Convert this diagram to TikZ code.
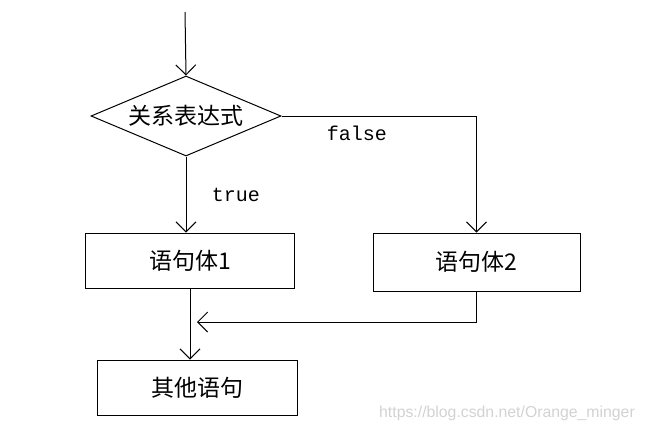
\documentclass[tikz,border=0pt]{standalone}
\usepackage{fontspec}
\setmainfont{Noto Sans CJK SC}
\setmonofont{Liberation Mono}
\newfontfamily\markfont{Liberation Sans}
\usepackage{tikz}
\usetikzlibrary{positioning,arrows.meta,shapes.geometric,calc}

\begin{document}
\begin{tikzpicture}[
    x=1pt, y=-1pt,
    stmt/.style={draw, line width=1pt, align=center, font=\fontsize{23}{26}\selectfont, inner sep=0pt},
    cond/.style={draw, diamond, line width=1pt, aspect=2.4, inner sep=0pt, minimum width=190pt, minimum height=80pt, font=\fontsize{23}{26}\selectfont},
    arrow/.style={-{Straight Barb[length=10pt,width=20pt]}, line width=1pt},
    label/.style={font=\ttfamily\fontsize{20}{23}\selectfont},
]
\useasboundingbox (0,0) rectangle (645,432);

% Condition
\coordinate (start) at (185,12);
\node[cond] (test) at (186,116) {关系表达式};

% Two branches
\node[stmt, minimum width=209pt, minimum height=55pt] (body1) at (190,260.5) {语句体1};
\node[stmt, minimum width=207pt, minimum height=58pt] (body2) at (476.5,262) {语句体2};

% Following statement
\node[stmt, minimum width=200pt, minimum height=55pt] (next) at (197,387.5) {其他语句};

% Labels
\node[label] (lfalse) at (357,133) {false};
\node[label] (ltrue) at (236,195) {true};
\node[font=\markfont\fontsize{15.8}{18}\selectfont, text=gray!35] (mark) at (507,413) {https://blog.csdn.net/Orange\_minger};

% Arrows
\coordinate (join) at (197,322);
\draw[arrow] (start) -- (test.north);
\draw[arrow] (test.east) -| (body2.north);
\draw[arrow] (test.south) -- (test.south |- body1.north);
\draw[arrow] (body2.south) |- (join);
\draw[arrow] (body1.south) -- (body1.south |- next.north);

\end{tikzpicture}
\end{document}
